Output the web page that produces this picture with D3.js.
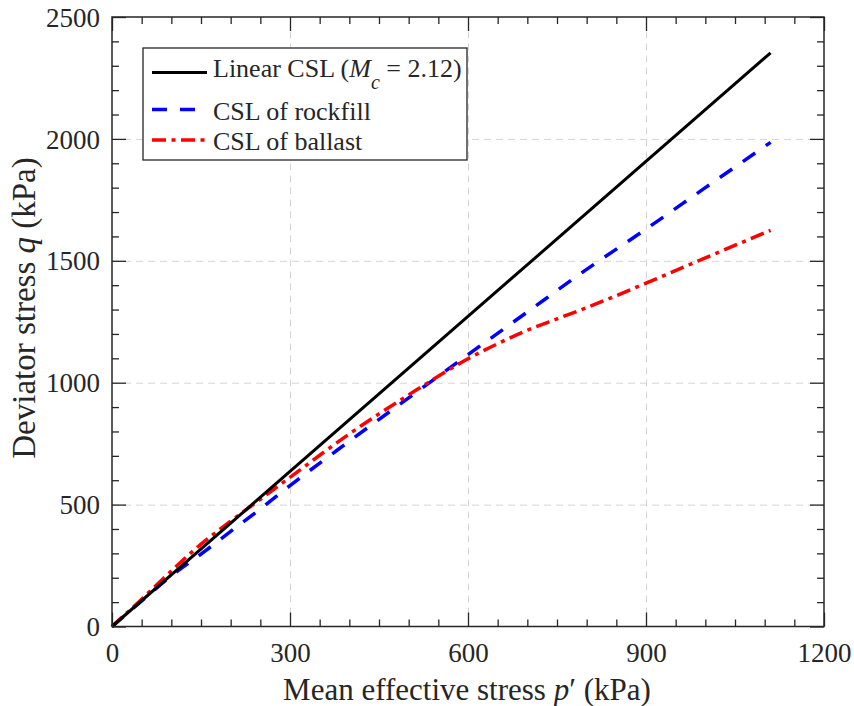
<!DOCTYPE html>
<html>
<head>
<meta charset="utf-8">
<script src="https://cdn.jsdelivr.net/npm/d3@7"></script>
</head>
<body style="margin:0; background:#fff">
<div id="chart"></div>
<script>
// values (p' in kPa, q in kPa)
const linearP = [0, 1110]
const linearQ = [0, 2353]
const rockfillP = [0, 50, 100, 150, 200, 250, 300, 400, 500, 600, 700, 800, 900, 1000, 1110]
const rockfillQ = [0, 105, 208, 297, 390, 482, 578, 760, 938, 1115, 1290, 1465, 1630, 1800, 1986]
const ballastP = [0, 50, 100, 150, 200, 250, 300, 400, 500, 600, 650, 700, 750, 800, 900, 1000, 1110]
const ballastQ = [0, 112, 228, 338, 432, 522, 612, 790, 950, 1098, 1160, 1215, 1262, 1308, 1408, 1512, 1625]
const xTicks = [0, 300, 600, 900, 1200]
const yTicks = [0, 500, 1000, 1500, 2000, 2500]

const width = 854,
  height = 706,
  plotLeft = 112,
  plotRight = 824,
  plotTop = 17,
  plotBottom = 626.5
const fontStyle = 'font-family: "Liberation Serif", "Times New Roman", serif'
const ink = '#262626'

const svg = d3
  .select('#chart')
  .append('svg')
  .attr('width', width)
  .attr('height', height)

const x = d3.scaleLinear().domain([0, 1200]).range([plotLeft, plotRight])
const y = d3.scaleLinear().domain([0, 2500]).range([plotBottom, plotTop])

// dashed grid
svg
  .append('g')
  .attr('transform', 'translate(0,' + plotBottom + ')')
  .call(d3.axisBottom(x).tickValues(xTicks.slice(1, -1)).tickSize(-(plotBottom - plotTop)).tickFormat(''))
  .call(g => g.select('.domain').remove())
  .selectAll('line')
  .attr('stroke', '#d4d4d4')
  .attr('stroke-dasharray', '7,5')
svg
  .append('g')
  .attr('transform', 'translate(' + plotLeft + ',0)')
  .call(d3.axisLeft(y).tickValues(yTicks.slice(1, -1)).tickSize(-(plotRight - plotLeft)).tickFormat(''))
  .call(g => g.select('.domain').remove())
  .selectAll('line')
  .attr('stroke', '#d4d4d4')
  .attr('stroke-dasharray', '7,5')

// series
const line = d3
  .line()
  .x(d => x(d[0]))
  .y(d => y(d[1]))
  .curve(d3.curveMonotoneX)

const series = [
  { name: 'rockfill', p: rockfillP, q: rockfillQ, color: '#0000ff', width: 3.5, dash: '15,13' },
  { name: 'ballast', p: ballastP, q: ballastQ, color: '#ff0000', width: 3.5, dash: '14,5.5,4,5.5' },
  { name: 'linear', p: linearP, q: linearQ, color: '#000000', width: 3, dash: null }
]

svg
  .append('g')
  .selectAll('path')
  .data(series)
  .enter()
  .append('path')
  .attr('d', s => line(s.p.map((p, i) => [p, s.q[i]])))
  .attr('fill', 'none')
  .attr('stroke', s => s.color)
  .attr('stroke-width', s => s.width)
  .attr('stroke-dasharray', s => s.dash)

// axes: ticks inward on all four sides
const xMinor = d3.range(0, 1201, 50).filter(v => v % 300 !== 0)
const yMinor = d3.range(0, 2501, 100).filter(v => v % 500 !== 0)

function styleAxis(g) {
  g.attr('font-family', null).attr('font-size', 27)
  g.select('.domain').remove()
  g.selectAll('line').attr('stroke', ink).attr('stroke-width', 1.3)
  g.selectAll('text').attr('fill', ink).attr('style', fontStyle)
}

svg.append('g').attr('transform', 'translate(0,' + plotBottom + ')')
  .call(d3.axisBottom(x).tickValues(xMinor).tickSize(-7).tickFormat('')).call(styleAxis)
svg.append('g').attr('transform', 'translate(0,' + plotTop + ')')
  .call(d3.axisTop(x).tickValues(xMinor).tickSize(-7).tickFormat('')).call(styleAxis)
svg.append('g').attr('transform', 'translate(0,' + plotTop + ')')
  .call(d3.axisTop(x).tickValues(xTicks).tickSize(-14).tickFormat('')).call(styleAxis)
svg.append('g').attr('transform', 'translate(' + plotLeft + ',0)')
  .call(d3.axisLeft(y).tickValues(yMinor).tickSize(-7).tickFormat('')).call(styleAxis)
svg.append('g').attr('transform', 'translate(' + plotRight + ',0)')
  .call(d3.axisRight(y).tickValues(yMinor).tickSize(-7).tickFormat('')).call(styleAxis)
svg.append('g').attr('transform', 'translate(' + plotRight + ',0)')
  .call(d3.axisRight(y).tickValues(yTicks).tickSize(-14).tickFormat('')).call(styleAxis)

const xAxis = svg
  .append('g')
  .attr('transform', 'translate(0,' + plotBottom + ')')
  .call(d3.axisBottom(x).tickValues(xTicks).tickSize(-14).tickFormat(d3.format('d')))
  .call(styleAxis)
xAxis.selectAll('text').attr('y', 35.5).attr('dy', null)

const yAxis = svg
  .append('g')
  .attr('transform', 'translate(' + plotLeft + ',0)')
  .call(d3.axisLeft(y).tickValues(yTicks).tickSize(-14).tickPadding(12).tickFormat(d3.format('d')))
  .call(styleAxis)
yAxis.selectAll('text').attr('dy', '0.34em')

// frame
svg
  .append('rect')
  .attr('x', plotLeft)
  .attr('y', plotTop)
  .attr('width', plotRight - plotLeft)
  .attr('height', plotBottom - plotTop)
  .attr('fill', 'none')
  .attr('stroke', ink)
  .attr('stroke-width', 1.5)

// axis titles
const xTitle = svg
  .append('text')
  .attr('x', 467)
  .attr('y', 700)
  .attr('text-anchor', 'middle')
  .attr('style', fontStyle)
  .attr('font-size', 31)
  .attr('fill', ink)
xTitle.append('tspan').text('Mean effective stress ')
xTitle.append('tspan').attr('font-style', 'italic').text('p')
xTitle.append('tspan').text('\u2032 (kPa)')

const yTitle = svg
  .append('text')
  .attr('transform', 'translate(35,308) rotate(-90)')
  .attr('text-anchor', 'middle')
  .attr('style', fontStyle)
  .attr('font-size', 33)
  .attr('fill', ink)
yTitle.append('tspan').text('Deviator stress ')
yTitle.append('tspan').attr('font-style', 'italic').text('q')
yTitle.append('tspan').text(' (kPa)')

// legend
const legend = svg.append('g')
legend
  .append('rect')
  .attr('x', 143)
  .attr('y', 48)
  .attr('width', 324)
  .attr('height', 112)
  .attr('fill', '#fff')
  .attr('stroke', ink)
  .attr('stroke-width', 1.3)

const legendRows = [
  { s: series[2], lineY: 72.5, textY: 76.5 },
  { s: series[0], lineY: 109.5, textY: 119.5 },
  { s: series[1], lineY: 140, textY: 149.5 }
]

legend
  .selectAll('line')
  .data(legendRows)
  .enter()
  .append('line')
  .attr('x1', 152)
  .attr('x2', 207)
  .attr('y1', d => d.lineY)
  .attr('y2', d => d.lineY)
  .attr('stroke', d => d.s.color)
  .attr('stroke-width', d => d.s.width)
  .attr('stroke-dasharray', d => d.s.dash)

const legendText = legend
  .selectAll('text')
  .data(legendRows)
  .enter()
  .append('text')
  .attr('x', 213)
  .attr('y', d => d.textY)
  .attr('style', fontStyle)
  .attr('font-size', 26)
  .attr('fill', ink)

legendText.each(function(d, i) {
  const t = d3.select(this)
  if (i === 0) {
    t.append('tspan').text('Linear CSL (')
    t.append('tspan').attr('font-style', 'italic').text('M')
    t.append('tspan').attr('font-style', 'italic').attr('font-size', 20).attr('dy', 12).text('c')
    t.append('tspan').attr('dy', -12).text(' = 2.12)')
  } else if (i === 1) {
    t.text('CSL of rockfill')
  } else {
    t.text('CSL of ballast')
  }
})
</script>
</body>
</html>
